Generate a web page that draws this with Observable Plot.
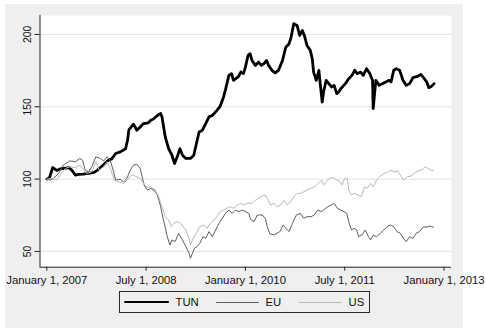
<!DOCTYPE html>
<html>
<head>
<meta charset="utf-8">
<script src="https://cdn.jsdelivr.net/npm/d3@7"></script>
<script src="https://cdn.jsdelivr.net/npm/@observablehq/plot@0.6"></script>
<style>
  html, body { margin: 0; padding: 0; background: #ffffff; width: 485px; height: 328px; overflow: hidden;
    font-family: "Liberation Sans", Arial, sans-serif; }
  #bg { position: absolute; left: 5px; top: 4px; width: 458px; height: 324px; background: #efefef; }
  #chart { position: absolute; left: 0; top: 0; }
  #chart svg { overflow: visible; }
  #legend { position: absolute; left: 119px; top: 291px; width: 251px; height: 22px; box-sizing: border-box;
    border: 1px solid #2a2a2a; background: #efefef; }
  .lg-line { position: absolute; }
  .lg-text { position: absolute; font-size: 11.3px; color: #111; line-height: 12px; top: 4px; }
</style>
</head>
<body>
<div id="bg"></div>
<div id="chart"></div>
<div id="legend"></div>
<script>
// ---- data (decimal year, value) ----
const seriesNames = ["TUN", "EU", "US"];

const tun = [
  [2007.00,100],[2007.04,101],[2007.09,108],[2007.15,106],[2007.20,107],[2007.27,107.5],[2007.33,108],
  [2007.38,106],[2007.43,102.8],[2007.48,103.2],[2007.55,103.5],[2007.63,104],[2007.71,104.6],[2007.76,106],
  [2007.81,108],[2007.86,110],[2007.93,113],[2007.98,114],[2008.04,117.7],[2008.11,118.8],[2008.19,121],
  [2008.22,127],[2008.24,134],[2008.31,138],[2008.36,133.8],[2008.41,136],[2008.46,138.4],[2008.53,138.8],
  [2008.57,140.7],[2008.61,141.5],[2008.67,144],[2008.72,145.3],[2008.74,143],[2008.79,129],[2008.84,121],
  [2008.89,116.5],[2008.93,110.8],[2008.97,115.4],[2009.01,121],[2009.05,116.5],[2009.10,114.3],[2009.17,114.3],
  [2009.22,116.5],[2009.26,124.6],[2009.30,132.6],[2009.35,133.8],[2009.40,138.4],[2009.45,143],[2009.50,144],
  [2009.57,147.5],[2009.62,150.5],[2009.67,156.8],[2009.70,162],[2009.75,171.7],[2009.79,172.9],[2009.82,168.3],
  [2009.89,170.6],[2009.93,174],[2009.97,172.9],[2010.00,177.4],[2010.04,185.5],[2010.07,186.7],[2010.10,182],
  [2010.15,178.6],[2010.20,180.9],[2010.24,178.6],[2010.28,179.8],[2010.32,182],[2010.35,178.6],[2010.40,175.2],
  [2010.45,173.4],[2010.50,175.2],[2010.56,182],[2010.61,191.2],[2010.66,193.6],[2010.69,198.1],[2010.73,207.4],
  [2010.78,206.2],[2010.82,199.3],[2010.86,202.8],[2010.89,199.3],[2010.93,192.4],[2010.98,189],[2011.01,183.2],
  [2011.03,174],[2011.07,168.3],[2011.11,175.2],[2011.13,166],[2011.16,153.3],[2011.18,160.2],[2011.22,168.3],
  [2011.26,166],[2011.30,163.7],[2011.34,164.8],[2011.38,159.1],[2011.41,160.2],[2011.44,162.5],[2011.51,166],
  [2011.56,169.4],[2011.61,171.7],[2011.65,175.2],[2011.69,172.9],[2011.74,174],[2011.78,171.7],[2011.83,176.3],
  [2011.88,172.9],[2011.92,168.3],[2011.93,148.8],[2011.97,168.3],[2012.02,164.8],[2012.07,166],[2012.12,167.1],
  [2012.17,168.3],[2012.20,167.1],[2012.24,175.2],[2012.28,176.3],[2012.33,175.2],[2012.38,168.3],[2012.43,164.8],
  [2012.48,166],[2012.53,170.1],[2012.60,171],[2012.65,172.4],[2012.69,170.1],[2012.74,167.1],[2012.77,163.2],
  [2012.81,164.1],[2012.85,166]
];

const eu = [
  [2007.00,100],[2007.05,99.3],[2007.10,100.5],[2007.18,104],[2007.25,109.7],[2007.35,112.6],[2007.43,112],
  [2007.50,114.3],[2007.54,113],[2007.58,106.2],[2007.63,105],[2007.68,108.5],[2007.74,115.4],[2007.81,114.3],
  [2007.86,112.6],[2007.91,115.4],[2007.96,112.6],[2008.01,105],[2008.04,99.3],[2008.11,99.8],[2008.16,98.1],
  [2008.21,100.5],[2008.26,106.2],[2008.31,109.7],[2008.36,110.3],[2008.41,107.4],[2008.47,95.9],[2008.52,92.4],
  [2008.57,93.6],[2008.62,92.4],[2008.67,89],[2008.72,80.9],[2008.74,76.3],[2008.78,68.3],[2008.82,60.2],
  [2008.86,54.5],[2008.89,57.9],[2008.94,56.8],[2008.99,62.6],[2009.05,57.9],[2009.10,53.3],[2009.15,48.7],
  [2009.17,45.3],[2009.20,48.7],[2009.23,52.2],[2009.27,53.3],[2009.31,55.6],[2009.36,60.2],[2009.40,59],
  [2009.45,63.7],[2009.50,60.2],[2009.55,64.8],[2009.60,69.4],[2009.65,72.9],[2009.70,76.3],[2009.75,78.6],
  [2009.80,76.3],[2009.85,78.6],[2009.90,77.5],[2009.95,78.6],[2010.00,77.5],[2010.05,76.3],[2010.08,72],
  [2010.13,70.6],[2010.18,75.2],[2010.25,75.2],[2010.30,72.9],[2010.33,67.1],[2010.37,62.1],[2010.43,61.4],
  [2010.48,62.6],[2010.52,63.7],[2010.57,68.3],[2010.61,66],[2010.66,63.7],[2010.71,69.4],[2010.77,75.2],
  [2010.83,76.3],[2010.88,72.9],[2010.93,74],[2010.99,74],[2011.04,75.2],[2011.09,78.6],[2011.15,77.5],
  [2011.18,78.6],[2011.24,80.9],[2011.30,82.1],[2011.34,83.2],[2011.39,79.8],[2011.44,78.6],[2011.49,77.5],
  [2011.53,76.3],[2011.56,70.6],[2011.60,64.8],[2011.64,66],[2011.68,64.8],[2011.71,60.2],[2011.76,61.4],
  [2011.81,64.8],[2011.86,60.2],[2011.89,57.9],[2011.93,61.4],[2011.98,60.2],[2012.04,62.6],[2012.09,64.8],
  [2012.14,67.1],[2012.19,68.3],[2012.24,67.1],[2012.29,63.7],[2012.34,62.6],[2012.39,59],[2012.43,56.8],
  [2012.48,60.2],[2012.53,59],[2012.58,62.6],[2012.63,63.7],[2012.69,67.1],[2012.74,66.7],[2012.79,67.6],
  [2012.84,66.7]
];

const us = [
  [2007.00,100],[2007.07,100.5],[2007.15,99.3],[2007.20,102.8],[2007.28,107.4],[2007.35,108.5],[2007.43,108],
  [2007.50,109.7],[2007.55,106.7],[2007.60,103.9],[2007.68,105],[2007.74,112],[2007.79,106.2],[2007.86,108.5],
  [2007.91,112],[2007.96,107.4],[2008.02,99.3],[2008.08,98.1],[2008.16,97],[2008.21,99.3],[2008.28,102.8],
  [2008.34,102],[2008.41,100.5],[2008.48,95.9],[2008.53,94],[2008.57,94.7],[2008.64,92.4],[2008.69,87.8],
  [2008.74,80.9],[2008.79,74],[2008.84,71.7],[2008.88,67.1],[2008.92,69.4],[2008.97,70.6],[2009.02,69.4],
  [2009.10,64.8],[2009.15,59],[2009.17,54.5],[2009.21,59],[2009.26,62.6],[2009.31,67.1],[2009.37,68.3],
  [2009.42,66],[2009.47,69.4],[2009.52,71.7],[2009.57,74],[2009.62,77.5],[2009.67,78.6],[2009.72,79.8],
  [2009.77,80.9],[2009.82,79.8],[2009.88,82.1],[2009.93,83.2],[2009.98,82.1],[2010.03,83.5],[2010.10,83.2],
  [2010.15,85.5],[2010.23,87.8],[2010.30,89],[2010.33,86.7],[2010.38,82.1],[2010.43,83.2],[2010.48,80.9],
  [2010.53,82.1],[2010.58,85.5],[2010.63,82.1],[2010.68,84.3],[2010.73,87.8],[2010.78,90.1],[2010.83,90.1],
  [2010.88,91.2],[2010.93,92.4],[2010.99,93.6],[2011.04,94.7],[2011.09,96.6],[2011.15,99.3],[2011.18,95.9],
  [2011.22,98.1],[2011.27,100.5],[2011.33,101.2],[2011.38,99.3],[2011.43,98.1],[2011.46,95.9],[2011.50,100.5],
  [2011.54,100.5],[2011.56,92.4],[2011.60,89],[2011.65,90.1],[2011.70,89],[2011.75,87.8],[2011.80,94.7],
  [2011.84,93.6],[2011.89,97],[2011.93,94.7],[2011.98,99.3],[2012.04,102.1],[2012.10,103.9],[2012.15,105],
  [2012.20,106.2],[2012.25,105],[2012.30,105.7],[2012.34,102.8],[2012.39,99.3],[2012.44,101.6],[2012.50,102.1],
  [2012.55,103.9],[2012.61,105.7],[2012.66,106.2],[2012.71,108.5],[2012.76,107.4],[2012.80,106.2],[2012.84,105.7]
];

const yTicks = [50, 100, 150, 200];
const xTicks = [2007, 2008.5, 2010, 2011.5, 2013];
const xTickLabels = ["January 1, 2007", "July 1, 2008", "January 1, 2010", "July 1, 2011", "January 1, 2013"];

// ---- styles ----
const seriesStyle = {
  TUN: {stroke: "#000000", width: 2.8},
  EU:  {stroke: "#5e5e5e", width: 1},
  US:  {stroke: "#b8b8b8", width: 1}
};
const seriesData = {TUN: tun, EU: eu, US: us};

const xDomain = [2006.897, 2013.113];
const yDomain = [39.1, 213.1];

const lineMarks = seriesNames.map(name => Plot.line(seriesData[name], {
  x: d => d[0], y: d => d[1],
  stroke: seriesStyle[name].stroke, strokeWidth: seriesStyle[name].width,
  strokeLinejoin: "round", strokeLinecap: "round"
}));

const chart = Plot.plot({
  width: 485, height: 290,
  marginLeft: 39.5, marginRight: 34, marginTop: 15, marginBottom: 23.3,
  style: {background: "transparent", fontFamily: "'Liberation Sans', Arial, sans-serif", fontSize: "11.3px", color: "#111", overflow: "visible"},
  x: {type: "linear", domain: xDomain},
  y: {type: "linear", domain: yDomain},
  marks: [
    Plot.frame({fill: "white", stroke: "none"}),
    Plot.gridY(yTicks, {stroke: "#e3e3e3", strokeOpacity: 1, strokeWidth: 1}),
    ...lineMarks,
    Plot.ruleX([xDomain[0]], {stroke: "#222"}),
    Plot.ruleY([yDomain[0]], {stroke: "#222"}),
    Plot.axisY(yTicks, {tickSize: 5, tickRotate: -90, fontSize: 10.4, label: null, stroke: "#222"}),
    Plot.axisX(xTicks, {tickSize: 4, tickPadding: 5, label: null, stroke: "#222",
      tickFormat: d => xTickLabels[xTicks.indexOf(d)]})
  ]
});
document.getElementById("chart").appendChild(chart);

// ---- legend ----
const legend = document.getElementById("legend");
const legendLayout = [
  {lineLeft: 3.5, lineWidth: 45, textLeft: 55.5},
  {lineLeft: 95.5, lineWidth: 43.5, textLeft: 145.5},
  {lineLeft: 178.5, lineWidth: 43.5, textLeft: 228.5}
];
seriesNames.forEach((name, i) => {
  const st = seriesStyle[name];
  const ln = document.createElement("div");
  ln.className = "lg-line";
  ln.style.left = legendLayout[i].lineLeft + "px";
  ln.style.width = legendLayout[i].lineWidth + "px";
  ln.style.height = st.width + "px";
  ln.style.top = (10 - st.width / 2) + "px";
  ln.style.background = st.stroke;
  ln.style.borderRadius = "1px";
  legend.appendChild(ln);
  const tx = document.createElement("div");
  tx.className = "lg-text";
  tx.style.left = legendLayout[i].textLeft + "px";
  tx.textContent = name;
  legend.appendChild(tx);
});
</script>
</body>
</html>
